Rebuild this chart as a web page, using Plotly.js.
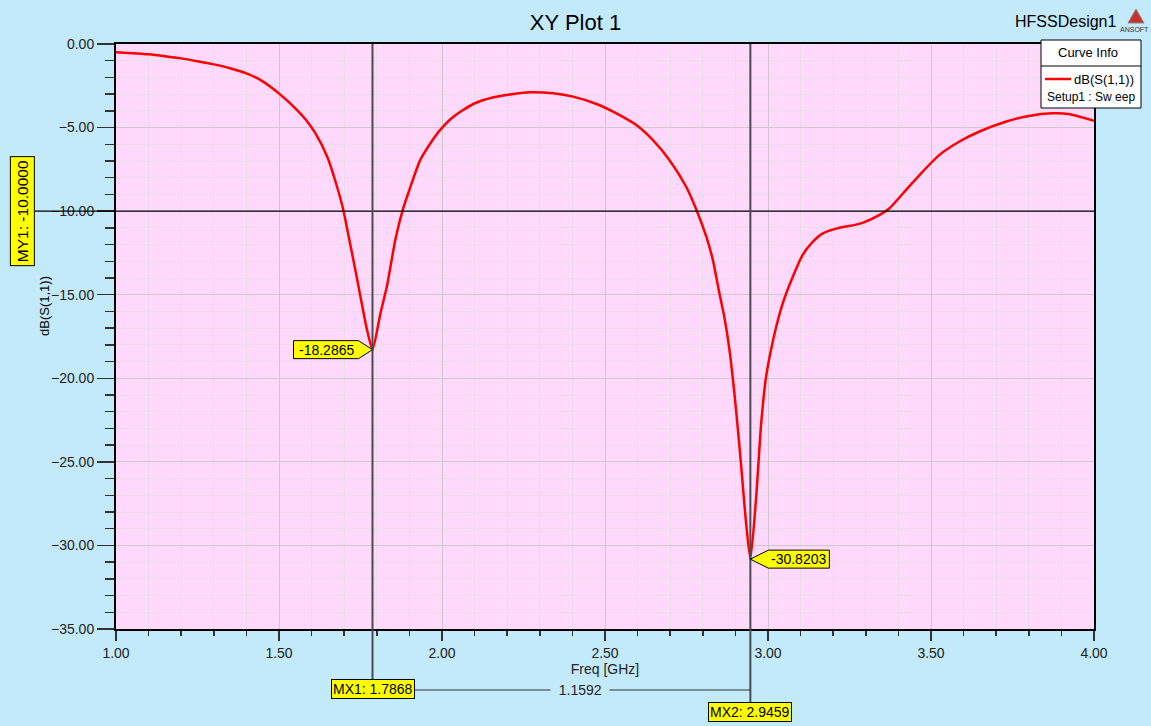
<!DOCTYPE html>
<html>
<head>
<meta charset="utf-8">
<script src="https://cdn.plot.ly/plotly-3.0.1.min.js"></script>
<style>html,body{margin:0;padding:0;background:#C3EAFB;}#chart{width:1151px;height:726px;}</style>
</head>
<body>
<div id="chart"></div>
<script>
// ---- data ----
const freq = [1.00,1.05,1.10,1.15,1.20,1.25,1.30,1.35,1.40,1.444,
  1.48,1.52,1.55,1.581,1.612,1.648,1.678,1.697,1.714,1.734,
  1.750,1.770,1.7868,1.811,1.831,1.857,1.880,1.898,1.933,1.964,
  1.994,2.035,2.096,2.158,2.219,2.270,2.341,2.402,2.474,2.535,
  2.596,2.647,2.698,2.749,2.780,2.811,2.831,2.851,2.866,2.882,
  2.897,2.907,2.918,2.931,2.9459,2.963,2.979,2.994,3.009,3.025,
  3.045,3.076,3.106,3.137,3.167,3.218,3.260,3.290,3.341,3.372,
  3.423,3.474,3.525,3.586,3.647,3.729,3.800,3.871,3.922,4.00];
const s11dB = [-0.50,-0.55,-0.62,-0.73,-0.86,-1.03,-1.22,-1.45,-1.76,-2.16,
  -2.65,-3.30,-3.85,-4.50,-5.35,-6.75,-8.54,-9.9,-11.54,-13.5,
  -15.13,-17.1,-18.2865,-16.13,-14.5,-11.7,-9.9,-8.84,-6.95,-5.95,
  -5.15,-4.35,-3.59,-3.19,-2.99,-2.89,-2.95,-3.15,-3.59,-4.15,
  -4.85,-5.75,-6.95,-8.54,-9.9,-11.54,-12.93,-14.93,-16.33,-18.32,
  -20.92,-22.92,-25.31,-28.3,-30.8203,-27.3,-22.71,-19.92,-18.32,-16.93,
  -15.53,-13.93,-12.63,-11.84,-11.34,-11.0,-10.85,-10.70,-10.24,-9.84,
  -8.74,-7.65,-6.65,-5.85,-5.25,-4.65,-4.31,-4.15,-4.19,-4.59];
const markerX = [1.7868, 2.9459];
const markerY = [-18.2865, -30.8203];
const markerXLabels = ["MX1: 1.7868", "MX2: 2.9459"];
const markerYValueLabels = ["-18.2865", "-30.8203"];
const myValue = -10;
const myLabel = "MY1: -10.0000";
const deltaLabel = "1.1592";
const traceName = "dB(S(1,1))";
const setupName = "Setup1 : Sw eep";

// ---- styles ----
const FONT = "Liberation Sans, Arial, sans-serif";
const BG = "#C3EAFB";
const YELLOW = "#FFFF00";
const PX = 978, PY = 585, L = 116, T = 44; // plot area pixel geometry
const px2x = p => (p - L) / PX;
const px2y = p => (T + PY - p) / PY;

const trace = {
  x: freq, y: s11dB, type: "scatter", mode: "lines",
  line: {color: "#FF0000", width: 2.5, shape: "spline", smoothing: 0.6}, name: traceName, showlegend: false,
  hoverinfo: "x+y"
};

const shapes = [];
const annotations = [];
const txt = (o) => Object.assign({showarrow: false, xanchor: "center", yanchor: "middle"}, o);
const NB = "\u00a0\u00a0";

// MY1 horizontal marker line
shapes.push({type: "line", xref: "paper", yref: "y", x0: px2x(32), x1: 1, y0: myValue, y1: myValue,
  line: {color: "#000", width: 1.3}, layer: "above"});
annotations.push(txt({xref: "paper", yref: "y", x: px2x(22), y: myValue, text: myLabel, textangle: -90,
  bgcolor: YELLOW, bordercolor: "#000", borderwidth: 1, borderpad: 3,
  font: {family: FONT, size: 15.5, color: "#000"}}));

// MX vertical marker lines
const mxBottom = [px2y(681), px2y(704)];
const mxLabelY = [px2y(689), px2y(712)];
markerX.forEach((mx, i) => {
  shapes.push({type: "line", xref: "x", yref: "paper", x0: mx, x1: mx, y0: 1, y1: mxBottom[i],
    line: {color: "#4a4a52", width: 2}, layer: "above"});
  annotations.push(txt({xref: "x", yref: "paper", x: mx, y: mxLabelY[i], text: markerXLabels[i],
    bgcolor: YELLOW, bordercolor: "#000", borderwidth: 1, borderpad: 1,
    font: {family: FONT, size: 14, color: "#000"}}));
});
// delta line
shapes.push({type: "line", xref: "x", yref: "paper", x0: markerX[0], x1: markerX[1],
  y0: px2y(690), y1: px2y(690), line: {color: "#333", width: 1}});
annotations.push(txt({xref: "x", yref: "paper", x: (markerX[0] + markerX[1]) / 2, y: px2y(690), xshift: 19,
  text: NB + deltaLabel + NB, bgcolor: BG, borderpad: 0,
  font: {family: FONT, size: 14, color: "#222"}}));

// value callouts (pentagon pointers)
const calloutPaths = ["M0,0 L-14,9 L-79,9 L-79,-9 L-14,-9 Z", "M0,0 L18,9 L79,9 L79,-9 L18,-9 Z"];
const calloutShift = [-46, 48];
markerX.forEach((mx, i) => {
  shapes.push({type: "path", xref: "x", yref: "y", xsizemode: "pixel", ysizemode: "pixel",
    xanchor: mx, yanchor: markerY[i], path: calloutPaths[i],
    fillcolor: YELLOW, line: {color: "#000", width: 1}, layer: "above"});
  annotations.push(txt({xref: "x", yref: "y", x: mx, y: markerY[i], xshift: calloutShift[i],
    text: markerYValueLabels[i], font: {family: FONT, size: 14, color: "#000"}}));
});

// y axis title
annotations.push(txt({xref: "paper", yref: "paper", x: px2x(44), y: px2y(306), text: "dB(S(1,1))", textangle: -90,
  font: {family: FONT, size: 13, color: "#000"}}));

// design name and logo
annotations.push(txt({xref: "paper", yref: "paper", x: px2x(1065), y: px2y(22), text: "HFSSDesign1",
  font: {family: FONT, size: 16, color: "#000"}}));
annotations.push(txt({xref: "paper", yref: "paper", x: px2x(1134), y: px2y(29), text: "ANSOFT",
  font: {family: FONT, size: 7, color: "#333"}}));
shapes.push({type: "path", xref: "paper", yref: "paper",
  path: `M${px2x(1136)},${px2y(9)} L${px2x(1144)},${px2y(23)} L${px2x(1128)},${px2y(23)} Z`,
  fillcolor: "#C8342C", line: {color: "#8a8a8a", width: 1}});

// custom legend box
shapes.push({type: "rect", xref: "paper", yref: "paper", x0: px2x(1041), x1: px2x(1141), y0: px2y(40), y1: px2y(108),
  fillcolor: "#FFFFFF", line: {color: "#000", width: 1}, layer: "above"});
shapes.push({type: "line", xref: "paper", yref: "paper", x0: px2x(1041), x1: px2x(1141), y0: px2y(66), y1: px2y(66),
  line: {color: "#000", width: 1}, layer: "above"});
shapes.push({type: "line", xref: "paper", yref: "paper", x0: px2x(1045), x1: px2x(1071), y0: px2y(79), y1: px2y(79),
  line: {color: "#FF0000", width: 2.5}, layer: "above"});
annotations.push(txt({xref: "paper", yref: "paper", x: px2x(1088), y: px2y(53), text: "Curve Info",
  font: {family: FONT, size: 13, color: "#000"}}));
annotations.push(txt({xref: "paper", yref: "paper", x: px2x(1136), y: px2y(79), xanchor: "right", text: traceName,
  font: {family: FONT, size: 13, color: "#000"}}));
annotations.push(txt({xref: "paper", yref: "paper", x: px2x(1045), y: px2y(97), xanchor: "left", text: setupName,
  font: {family: FONT, size: 12, color: "#000"}}));

const layout = {
  width: 1151, height: 726,
  margin: {l: 116, r: 57, t: 44, b: 97, pad: 0},
  paper_bgcolor: BG, plot_bgcolor: "#FFD9FC",
  font: {family: FONT, size: 14, color: "#222"},
  title: {text: "XY Plot 1", font: {family: FONT, size: 22, color: "#000"}, x: 0.5, xref: "container",
    y: 1 - 22 / 726, yanchor: "middle"},
  showlegend: false,
  xaxis: {
    range: [1, 4], dtick: 0.5, tick0: 1, tickformat: ".2f",
    ticks: "outside", ticklen: 10, tickwidth: 1.5, tickcolor: "#333",
    showline: true, linecolor: "#000", linewidth: 2, mirror: true,
    showgrid: true, gridcolor: "#CFC8CF", gridwidth: 1, zeroline: false,
    minor: {dtick: 0.1, ticks: "outside", ticklen: 5, tickcolor: "#333", tickwidth: 1.5, showgrid: true, gridcolor: "#E8DDE8"},
    title: {text: "Freq [GHz]", font: {family: FONT, size: 14, color: "#222"}, standoff: 0},
    tickfont: {family: FONT, size: 14, color: "#222"}
  },
  yaxis: {
    range: [-35, 0], dtick: 5, tick0: 0, tickformat: ".2f",
    ticks: "outside", ticklen: 17, tickwidth: 1.5, tickcolor: "#333",
    showline: true, linecolor: "#000", linewidth: 2, mirror: true,
    showgrid: true, gridcolor: "#CFC8CF", gridwidth: 1, zeroline: false,
    minor: {dtick: 1, ticks: "outside", ticklen: 9, tickcolor: "#333", tickwidth: 1.5, showgrid: true, gridcolor: "#E8DDE8"},
    tickfont: {family: FONT, size: 14, color: "#222"}
  },
  shapes: shapes,
  annotations: annotations
};

Plotly.newPlot("chart", [trace], layout, {displayModeBar: false, staticPlot: true});
</script>
</body>
</html>
